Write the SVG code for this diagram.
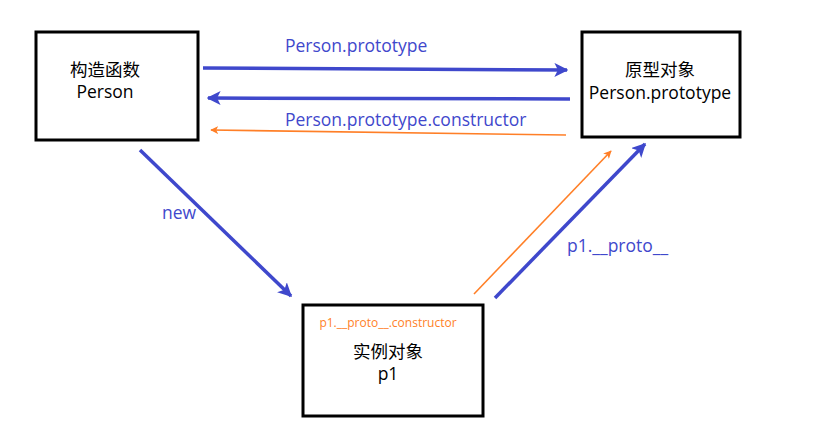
<svg xmlns="http://www.w3.org/2000/svg" width="819" height="448" viewBox="0 0 819 448">
<style>
.box{fill:#fff;stroke:#000;stroke-width:3}
.t{font-family:"Open Sans","Noto Sans CJK SC",sans-serif;font-size:17.5px;fill:#000;text-anchor:middle}
.lb{font-family:"Open Sans","Noto Sans CJK SC",sans-serif;font-size:17.5px;fill:#3f48cc}
.blue{stroke:#3f48cc;stroke-width:3.5;fill:none}
.orange{stroke:#ff7f27;stroke-width:1.6;fill:none}
</style>
<defs>
<marker id="ab" viewBox="0 0 10 10" refX="9" refY="5" markerWidth="4" markerHeight="4" orient="auto" markerUnits="strokeWidth"><path d="M0,0 L10,5 L0,10 L2.5,5 z" fill="#3f48cc"/></marker>
<marker id="ao" viewBox="0 0 10 10" refX="9" refY="5" markerWidth="5" markerHeight="5" orient="auto" markerUnits="strokeWidth"><path d="M0,0 L10,5 L0,10 L2.5,5 z" fill="#ff7f27"/></marker>
</defs>
<rect width="819" height="448" fill="#fff"/>
<g id="connectors">
<line class="blue" x1="203" y1="68" x2="567" y2="70" marker-end="url(#ab)"/>
<line class="blue" x1="570" y1="99" x2="208" y2="98" marker-end="url(#ab)"/>
<line class="orange" x1="566" y1="135" x2="211" y2="130" marker-end="url(#ao)"/>
<line class="blue" x1="140" y1="150" x2="291" y2="296" marker-end="url(#ab)"/>
<line class="blue" x1="495" y1="298" x2="645" y2="144" marker-end="url(#ab)"/>
<line class="orange" x1="474" y1="294" x2="611" y2="151" marker-end="url(#ao)"/>
<text class="lb" x="285" y="52">Person.prototype</text>
<text class="lb" x="285" y="126">Person.prototype.constructor</text>
<text class="lb" x="162" y="219">new</text>
<text class="lb" x="567" y="252">p1.__proto__</text>
</g>
<g id="constructor">
<rect class="box" x="36" y="32" width="162" height="108"/>
<text class="t" x="105" y="76">构造函数</text>
<text class="t" x="105" y="98">Person</text>
</g>
<g id="prototype">
<rect class="box" x="582" y="32" width="158" height="105"/>
<text class="t" x="660" y="76">原型对象</text>
<text class="t" x="660" y="99">Person.prototype</text>
</g>
<g id="instance">
<rect class="box" x="303" y="305" width="180" height="111"/>
<text x="388" y="327" font-family="Open Sans, sans-serif" font-size="12" fill="#ff7f27" text-anchor="middle">p1.__proto__.constructor</text>
<text class="t" x="388" y="358">实例对象</text>
<text class="t" x="388" y="380">p1</text>
</g>
</svg>
